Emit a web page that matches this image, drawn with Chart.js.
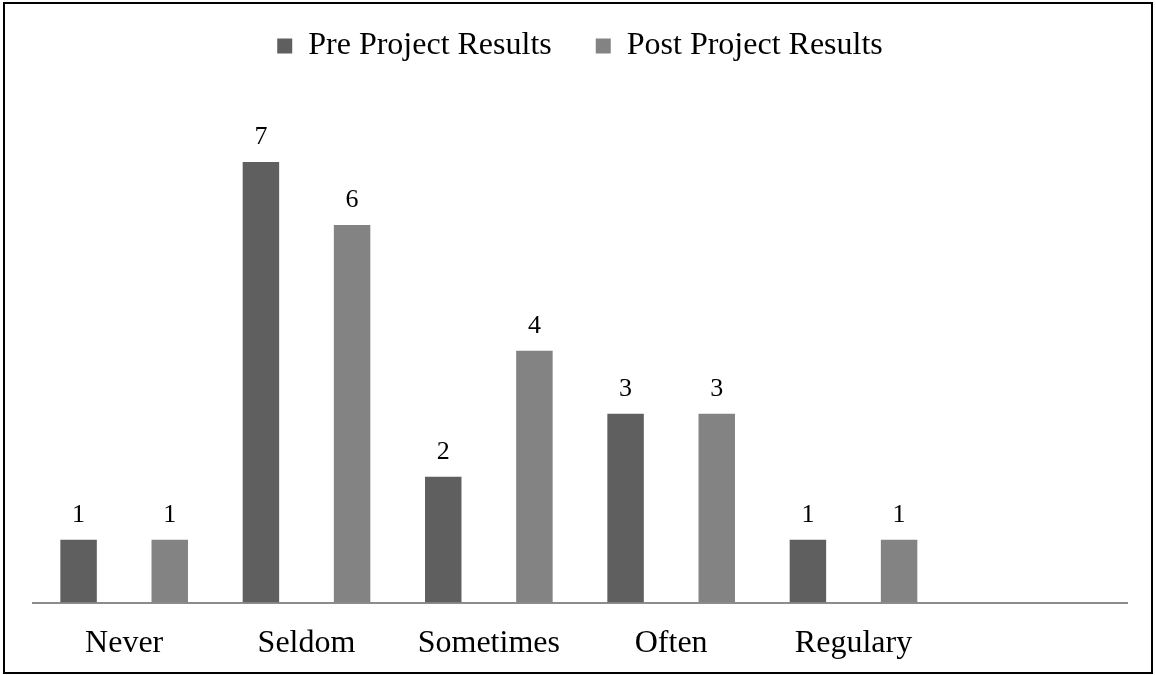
<!DOCTYPE html>
<html lang="en">
<head>
    <meta charset="UTF-8">
    <title>Pre / Post Project Results</title>
    <script src="https://cdn.jsdelivr.net/npm/chart.js"></script>
    <style>
        html, body {
            margin: 0;
            padding: 0;
            background: #fff;
        }
        .chart-frame {
            position: absolute;
            left: 3px;
            top: 2px;
            width: 1146px;
            height: 668px;
            border: 2px solid #000;
            background: #fff;
        }
    </style>
</head>
<body>
    <div class="chart-frame">
        <canvas id="resultsChart"></canvas>
    </div>

    <script>
        // data
        const categories = ['Never', 'Seldom', 'Sometimes', 'Often', 'Regulary', ''];
        const preResults = [1, 7, 2, 3, 1, null];
        const postResults = [1, 6, 4, 3, 1, null];
        const seriesNames = ['Pre Project Results', 'Post Project Results'];

        const serif = "'Liberation Serif', 'Times New Roman', serif";

        // value labels above each bar
        const valueLabels = {
            id: 'valueLabels',
            afterDatasetsDraw(chart) {
                const ctx = chart.ctx;
                ctx.save();
                ctx.font = '26px ' + serif;
                ctx.fillStyle = '#000';
                ctx.textAlign = 'center';
                ctx.textBaseline = 'alphabetic';
                chart.data.datasets.forEach((ds, i) => {
                    const meta = chart.getDatasetMeta(i);
                    meta.data.forEach((bar, j) => {
                        const v = ds.data[j];
                        if (v === null || v === undefined) return;
                        ctx.fillText(String(v), bar.x, bar.y - 18);
                    });
                });
                ctx.restore();
            }
        };

        const ctx = document.getElementById('resultsChart').getContext('2d');
        new Chart(ctx, {
            type: 'bar',
            data: {
                labels: categories,
                datasets: [
                    {
                        label: seriesNames[0],
                        data: preResults,
                        backgroundColor: '#5f5f5f',
                        categoryPercentage: 1.0,
                        barPercentage: 0.4
                    },
                    {
                        label: seriesNames[1],
                        data: postResults,
                        backgroundColor: '#838383',
                        categoryPercentage: 1.0,
                        barPercentage: 0.4
                    }
                ]
            },
            options: {
                responsive: true,
                maintainAspectRatio: false,
                animation: false,
                layout: {
                    padding: { top: -18, left: 28, right: 24, bottom: -13 }
                },
                plugins: {
                    legend: {
                        position: 'top',
                        labels: {
                            color: '#000',
                            font: { family: serif, size: 32 },
                            boxWidth: 15,
                            boxHeight: 15,
                            padding: 44
                        }
                    },
                    tooltip: { enabled: false }
                },
                scales: {
                    x: {
                        grid: { display: false, drawTicks: false },
                        border: { display: true, color: '#8c8c8c', width: 2 },
                        ticks: {
                            color: '#000',
                            font: { family: serif, size: 32 },
                            padding: 22,
                            maxRotation: 0,
                            autoSkip: false
                        }
                    },
                    y: {
                        display: false,
                        min: 0,
                        max: 8.43
                    }
                }
            },
            plugins: [valueLabels]
        });
    </script>
</body>
</html>
